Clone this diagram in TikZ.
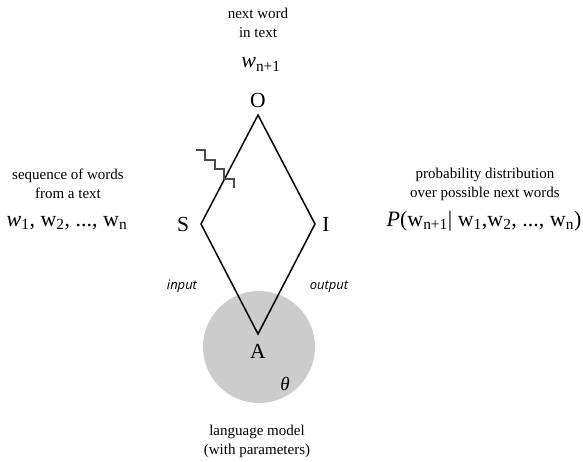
\documentclass[tikz,border=0pt]{standalone}
\usepackage{fontspec}
\setmainfont{Liberation Serif}
\newfontfamily\edgefont{Open Sans}
\usetikzlibrary{positioning}

\begin{document}
\begin{tikzpicture}[x=1pt, y=-1pt, every node/.style={inner sep=0pt},
  caption/.style={font=\fontsize{15}{19}\selectfont, align=center, anchor=north},
  formula/.style={font=\fontsize{22}{26}\selectfont, anchor=base},
  corner/.style={font=\fontsize{21.5}{25}\selectfont, anchor=base},
  edgelabel/.style={font=\edgefont\itshape\fontsize{13}{15}\selectfont, anchor=base}]
  \useasboundingbox (0,0) rectangle (583,462);

  % language model
  \node[circle, fill=black!20, minimum size=112pt] (model) at (259,347) {};
  \node[font=\fontsize{19}{22}\selectfont, anchor=base] (theta) at (285,390) {\textit{θ}};

  % semiotic square
  \coordinate (vO) at (258,115);
  \coordinate (vS) at (201,224);
  \coordinate (vI) at (315,224);
  \coordinate (vA) at (258,334);
  \draw[line width=1.5pt] (vO) -- (vI) -- (vA) -- (vS) -- cycle;

  \node[corner] (O) at (258,108) {O};
  \node[corner] (S) at (183,232) {S};
  \node[corner] (I) at (326,232) {I};
  \node[corner] (A) at (258,358) {A};

  % cut on the S--O side
  \draw[black!70, line width=1.2pt] (196,150) -| (205,160) -| (215,169) -| (224,179) -| (234,188);

  \node[edgelabel] (input) at (182,289) {input};
  \node[edgelabel] (output) at (329,289) {output};

  % texts
  \node[caption] (next) at (258,8.3) {next word\\in text};
  \node[formula] (wnext) at (261,68) {\textit{w}\textsubscript{n+1}};

  \node[caption] (seq) at (68,168.7) {sequence of words\\from a text};
  \node[formula] (wseq) at (67,226) {\textit{w}\textsubscript{1}, w\textsubscript{2}, ..., w\textsubscript{n}};

  \node[caption] (prob) at (485,168) {probability distribution\\over possible next words};
  \node[formula] (pdist) at (484,226) {\textit{P}(w\textsubscript{n+1}| w\textsubscript{1},w\textsubscript{2}, ..., w\textsubscript{n})};

  \node[caption] (lm) at (257,424.7) {language model\\(with parameters)};
\end{tikzpicture}
\end{document}
